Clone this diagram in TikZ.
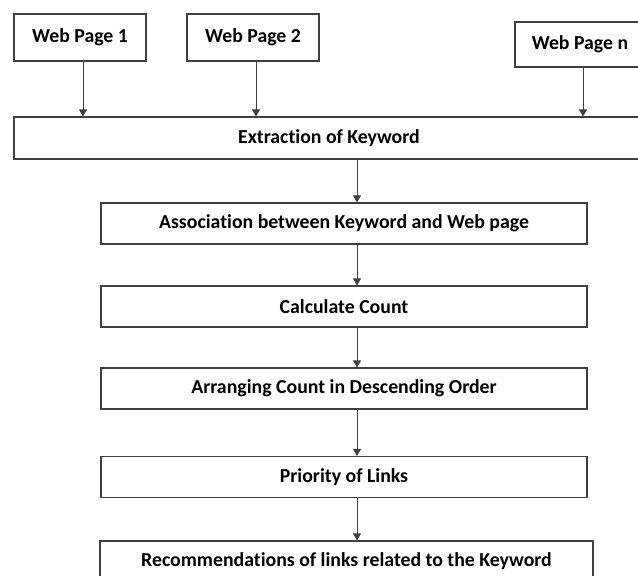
\documentclass[tikz,border=0pt]{standalone}
\usepackage{fontspec}
\setmainfont[Ligatures=NoCommon]{Carlito}
\usetikzlibrary{arrows.meta}

\tikzset{
  stepbox/.style={draw=black!75, line width=1.1pt, fill=white, minimum height=41pt,
    inner sep=0pt, font=\fontsize{19.8}{23}\selectfont\bfseries},
  arr/.style={draw=black!75, line width=0.9pt, -{Triangle[width=8pt,length=7pt]}}
}

\begin{document}
\begin{tikzpicture}[x=1pt,y=-1pt]
        \useasboundingbox (0,0) rectangle (638,576);
        % input pages
        \node[stepbox, minimum width=132pt, minimum height=47pt] (wp1) at (80,37.5) {Web Page 1};
        \node[stepbox, minimum width=132pt, minimum height=47pt] (wp2) at (253,37.5) {Web Page 2};
        \node[stepbox, minimum width=130pt, minimum height=45pt] (wpn) at (580,44.5) {Web Page n};
        \node[stepbox, minimum width=630pt, minimum height=42pt] (ext) at (329,138) {Extraction of Keyword};
        \foreach \p in {wp1,wp2,wpn}{
          \draw[arr] ([xshift=3pt]\p.south) -- ([xshift=3pt]\p.south |- ext.north);}
        % processing chain
        \coordinate (spine) at (357,0);
        \foreach \nm/\y/\txt in {assoc/223.5/Association between Keyword and Web page,
            calc/306.5/Calculate Count, arrange/388.5/Arranging Count in Descending Order,
            prio/477/Priority of Links}{
          \node[stepbox, minimum width=486pt] (\nm) at (344,\y) {\txt};}
        \node[stepbox, minimum width=493pt] (rec) at (346.5,561.5) {Recommendations of links related to the Keyword};
        \foreach \a/\b in {ext/assoc,assoc/calc,calc/arrange,arrange/prio,prio/rec}{
          \draw[arr] (\a.south -| spine) -- (\b.north -| spine);}
      \end{tikzpicture}
\end{document}
